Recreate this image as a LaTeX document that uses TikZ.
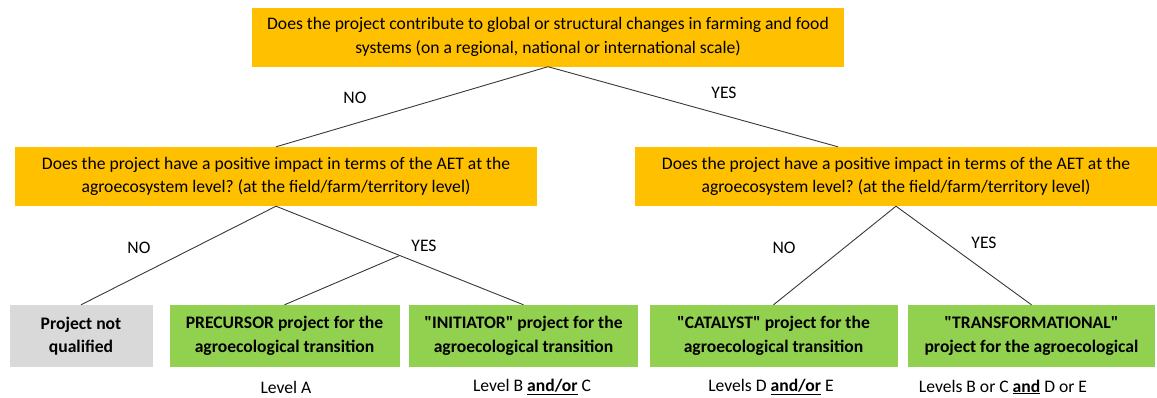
\documentclass[tikz,border=0pt]{standalone}
\usepackage{fontspec}
\setmainfont[Ligatures=TeXOff]{Carlito}
\frenchspacing
\usetikzlibrary{calc}
\definecolor{qgold}{HTML}{FFC000}
\definecolor{qgreen}{HTML}{92D050}
\definecolor{qgray}{HTML}{D9D9D9}
\definecolor{qline}{HTML}{383838}
\tikzset{
  qbox/.style={rectangle, fill=qgold, draw=none, align=center, inner sep=0pt,
    font=\fontsize{17.6}{23.5}\selectfont, minimum height=59pt},
  resbox/.style={rectangle, fill=qgreen, draw=none, align=center, inner sep=0pt,
    font=\fontsize{17.6}{23.5}\selectfont\bfseries, minimum height=62pt},
  graybox/.style={resbox, fill=qgray},
  conn/.style={draw=qline, line width=0.9pt},
  lbl/.style={inner sep=0pt, font=\fontsize{17.6}{21}\selectfont},
}
\begin{document}
\begin{tikzpicture}[x=1pt,y=-1pt]
\useasboundingbox (0,0) rectangle (1157,397);
% question boxes
\node[qbox, minimum width=592pt] (top) at (548,37)
  {Does the project contribute to global or structural changes in farming and food\\systems (on a regional, national or international scale)};
\node[qbox, minimum width=522pt] (midL) at (276,176.5)
  {Does the project have a positive impact in terms of the AET at the\\agroecosystem level? (at the field/farm/territory level)};
\node[qbox, minimum width=522pt] (midR) at (896,176.5)
  {Does the project have a positive impact in terms of the AET at the\\agroecosystem level? (at the field/farm/territory level)};
% result boxes
\node[graybox, minimum width=143pt] (b1) at (81,336) {Project not\\qualified};
\node[resbox, minimum width=230pt] (b2) at (284.5,336) {PRECURSOR project for the\\agroecological transition};
\node[resbox, minimum width=229pt] (b3) at (523.5,336) {"INITIATOR" project for the\\agroecological transition};
\node[resbox, minimum width=248pt] (b4) at (773.5,336) {"CATALYST" project for the\\agroecological transition};
\node[resbox, minimum width=247pt] (b5) at (1031.5,336) {"TRANSFORMATIONAL"\\project for the agroecological};
% connectors
\coordinate (rin) at ([xshift=-58pt]midR.north);
\draw[conn] (top.south) -- (midL.north);
\draw[conn] (top.south) -- (rin);
\draw[conn] (midL.south) -- (b1.north);
\draw[conn] (midL.south) -- (b3.north);
\coordinate (br) at ($(midL.south)!0.5!(b3.north)$);
\draw[conn] (br) -- (b2.north);
\draw[conn] (midR.south) -- (b4.north);
\draw[conn] (midR.south) -- (b5.north);
% branch labels
\node[lbl] (n1) at (355,98) {NO};
\node[lbl] (y1) at (724,93) {YES};
\node[lbl] (n2) at (139,248) {NO};
\node[lbl] (y2) at (424,246) {YES};
\node[lbl] (n3) at (784,248) {NO};
\node[lbl] (y3) at (984,243) {YES};
% level labels
\node[lbl] (l1) at (286,387) {Level A};
\node[lbl] (l2) at (532,387) {Level B \underline{\textbf{and/or}} C};
\node[lbl] (l3) at (771,387) {Levels D \underline{\textbf{and/or}} E};
\node[lbl] (l4) at (1003,387) {Levels B or C \underline{\textbf{and}} D or E};
\end{tikzpicture}
\end{document}
